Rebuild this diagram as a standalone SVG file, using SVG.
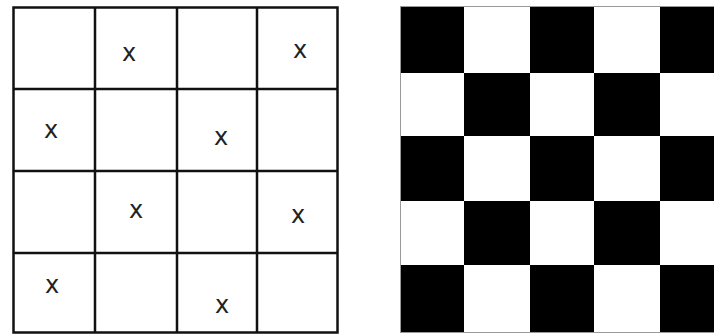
<svg xmlns="http://www.w3.org/2000/svg" width="714" height="335" viewBox="0 0 714 335">
<style>
.ln{stroke:#111;stroke-width:2.5;fill:none}
.x{font-family:"DejaVu Sans",Verdana,sans-serif;font-size:24px;fill:#222;text-anchor:middle}
.b{fill:#000}
</style>
<rect width="714" height="335" fill="#fff"/>
<g id="grid">
<rect class="ln" x="13.5" y="7.5" width="324" height="325"/>
<path class="ln" d="M95,7.5V332.5M177,7.5V332.5M257,7.5V332.5M13.5,89H337.5M13.5,171H337.5M13.5,253H337.5"/>
</g>
<g id="marks">
<text class="x" x="129" y="61">x</text>
<text class="x" x="300" y="58">x</text>
<text class="x" x="51" y="138">x</text>
<text class="x" x="221" y="145">x</text>
<text class="x" x="136" y="218">x</text>
<text class="x" x="298" y="223">x</text>
<text class="x" x="52" y="293">x</text>
<text class="x" x="222" y="313">x</text>
</g>
<g id="checkerboard">
<rect x="400.5" y="6.5" width="320" height="326" fill="#fff" stroke="#999" stroke-width="1"/>
<rect class="b" x="401" y="7" width="63" height="66"/>
<rect class="b" x="530" y="7" width="64" height="66"/>
<rect class="b" x="660" y="7" width="54" height="66"/>
<rect class="b" x="464" y="73" width="66" height="63"/>
<rect class="b" x="594" y="73" width="66" height="63"/>
<rect class="b" x="401" y="136" width="63" height="65"/>
<rect class="b" x="530" y="136" width="64" height="65"/>
<rect class="b" x="660" y="136" width="54" height="65"/>
<rect class="b" x="464" y="201" width="66" height="64"/>
<rect class="b" x="594" y="201" width="66" height="64"/>
<rect class="b" x="401" y="265" width="63" height="67"/>
<rect class="b" x="530" y="265" width="64" height="67"/>
<rect class="b" x="660" y="265" width="54" height="67"/>
</g>
</svg>
